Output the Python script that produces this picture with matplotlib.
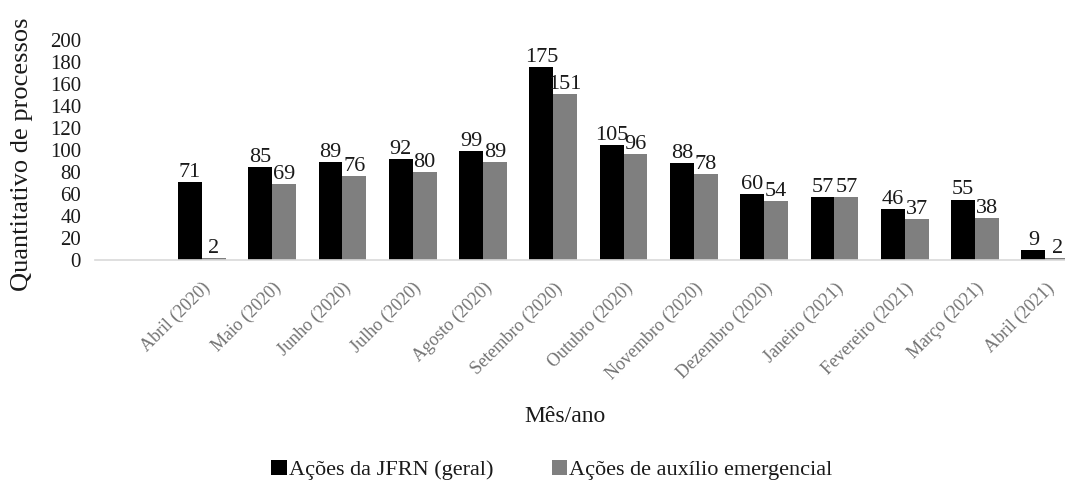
import numpy as np
import matplotlib
matplotlib.use('Agg')
import matplotlib.pyplot as plt

plt.rcParams['font.family'] = ['Liberation Serif', 'DejaVu Serif']

# dados
meses = ['Abril (2020)', 'Maio (2020)', 'Junho (2020)', 'Julho (2020)', 'Agosto (2020)',
         'Setembro (2020)', 'Outubro (2020)', 'Novembro (2020)', 'Dezembro (2020)',
         'Janeiro (2021)', 'Fevereiro (2021)', 'Março (2021)', 'Abril (2021)']
acoes_geral = [71, 85, 89, 92, 99, 175, 105, 88, 60, 57, 46, 55, 9]
acoes_auxilio = [2, 69, 76, 80, 89, 151, 96, 78, 54, 57, 37, 38, 2]
series_nomes = ['Ações da JFRN (geral)', 'Ações de auxílio emergencial']

fig = plt.figure(figsize=(10.65, 4.83), dpi=100)
ax = fig.add_axes([95 / 1065, 1 - 260 / 483, 970 / 1065, 220 / 483])

x = np.arange(len(meses))
w = 0.34
b1 = ax.bar(x - w / 2, acoes_geral, w, color='#000000', label=series_nomes[0])
b2 = ax.bar(x + w / 2, acoes_auxilio, w, color='#7f7f7f', label=series_nomes[1])

for barras in (b1, b2):
    for b in barras:
        ax.annotate(f'{int(b.get_height())}', (b.get_x() + b.get_width() / 2, b.get_height()),
                    xytext=(0, 0), textcoords='offset points', ha='center', va='bottom',
                    fontsize=16, color='#1a1a1a')

ax.set_xlim(-1.52, 12.28)
ax.set_ylim(0, 200)
ax.set_yticks(range(0, 201, 20))
ax.tick_params(axis='y', length=0, pad=10, labelsize=15, labelcolor='#1a1a1a')
ax.set_xticks(x)
ax.set_xticklabels(meses, rotation=45, ha='right', rotation_mode='anchor',
                   fontsize=13, color='#737373')
ax.tick_params(axis='x', length=0, pad=14)

for s in ['top', 'right', 'left']:
    ax.spines[s].set_visible(False)
ax.spines['bottom'].set_color('#d9d9d9')
ax.spines['bottom'].set_linewidth(1.2)

ax.set_ylabel('Quantitativo de processos', fontsize=19, color='#1a1a1a')
ax.yaxis.set_label_coords(-62 / 970, 0.48)
fig.text(565 / 1065, 1 - 416 / 483, 'Mês/ano', ha='center', va='center', fontsize=17, color='#1a1a1a')

fig.legend(loc='center', bbox_to_anchor=(552 / 1065, 1 - 470 / 483), ncol=2, frameon=False,
           fontsize=16, handlelength=0.7, handleheight=0.7, handletextpad=0.1,
           columnspacing=2.6, labelcolor='#1a1a1a')

fig.savefig('out.png', dpi=100)
